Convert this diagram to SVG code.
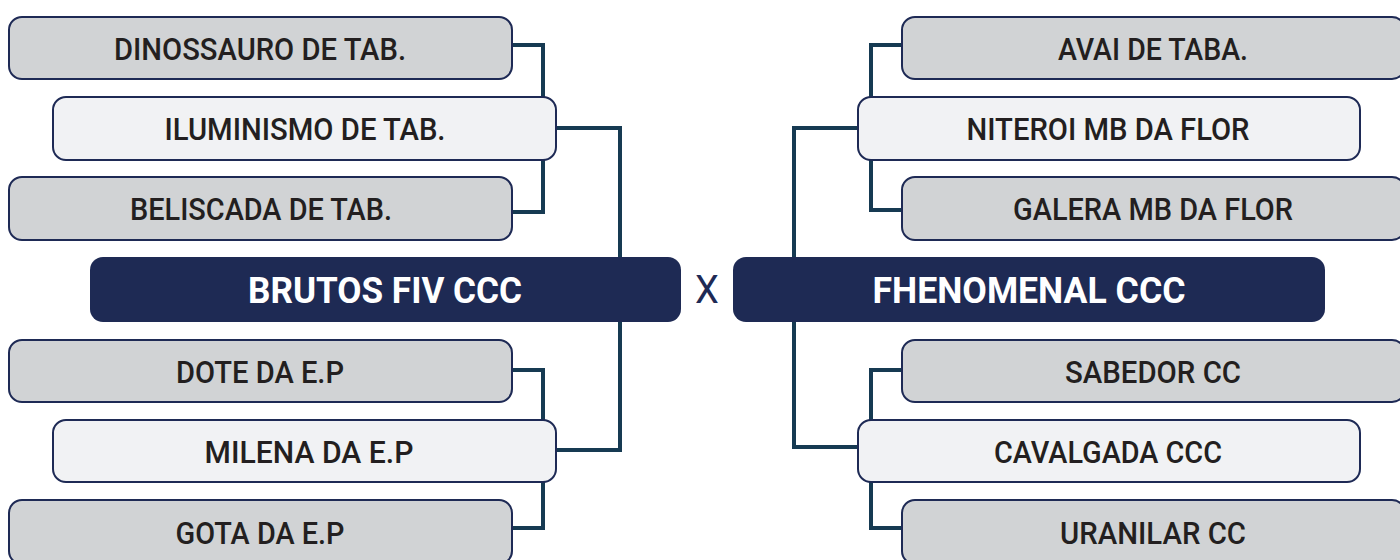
<svg xmlns="http://www.w3.org/2000/svg" width="1400" height="560" viewBox="0 0 1400 560">
<style>
.g{fill:#d1d3d5;stroke:#1e2a55;stroke-width:2}
.l{fill:#f1f2f4;stroke:#1e2a55;stroke-width:2}
.m{fill:#1e2a54}
.t{font-family:Roboto,"Liberation Sans",sans-serif;font-weight:500;font-size:32px;fill:#231f20;text-anchor:middle}
.mt{font-family:Roboto,"Liberation Sans",sans-serif;font-weight:700;font-size:36px;fill:#ffffff;text-anchor:middle}
.x{font-family:Roboto,"Liberation Sans",sans-serif;font-weight:400;font-size:38px;fill:#1e2a55;text-anchor:middle}
.c{fill:none;stroke:#163a52;stroke-width:4}
</style>
<rect width="1400" height="560" fill="#ffffff"/>
<g id="connectors">
<path class="c" d="M512 45 H543 V97 M543 160 V212 H512"/>
<path class="c" d="M556 128 H620 V257 M620 322 V450 H556"/>
<path class="c" d="M512 370 H543 V420 M543 482 V528 H512"/>
<path class="c" d="M902 45 H871 V97 M871 160 V210 H902"/>
<path class="c" d="M858 128 H794 V257 M794 322 V447 H858"/>
<path class="c" d="M902 370 H871 V420 M871 482 V528 H902"/>
</g>
<g id="n-dinossauro"><rect class="g" x="9" y="17" width="503" height="62" rx="13"/><text class="t" x="260" y="60" textLength="292" lengthAdjust="spacingAndGlyphs">DINOSSAURO DE TAB.</text></g>
<g id="n-iluminismo"><rect class="l" x="53" y="97" width="503" height="63" rx="13"/><text class="t" x="305" y="140" textLength="281" lengthAdjust="spacingAndGlyphs">ILUMINISMO DE TAB.</text></g>
<g id="n-beliscada"><rect class="g" x="9" y="177" width="503" height="63" rx="13"/><text class="t" x="261" y="220" textLength="262" lengthAdjust="spacingAndGlyphs">BELISCADA DE TAB.</text></g>
<g id="n-brutos"><rect class="m" x="90" y="257" width="591" height="65" rx="13"/><text class="mt" x="385" y="303" textLength="274" lengthAdjust="spacingAndGlyphs">BRUTOS FIV CCC</text></g>
<g id="n-x"><text class="x" x="707" y="303">X</text></g>
<g id="n-fhenomenal"><rect class="m" x="733" y="257" width="592" height="65" rx="13"/><text class="mt" x="1029" y="303" textLength="313" lengthAdjust="spacingAndGlyphs">FHENOMENAL CCC</text></g>
<g id="n-dote"><rect class="g" x="9" y="340" width="503" height="62" rx="13"/><text class="t" x="260" y="383" textLength="168" lengthAdjust="spacingAndGlyphs">DOTE DA E.P</text></g>
<g id="n-milena"><rect class="l" x="53" y="420" width="503" height="62" rx="13"/><text class="t" x="309" y="463" textLength="209" lengthAdjust="spacingAndGlyphs">MILENA DA E.P</text></g>
<g id="n-gota"><rect class="g" x="9" y="500" width="503" height="64" rx="13"/><text class="t" x="260" y="544" textLength="169" lengthAdjust="spacingAndGlyphs">GOTA DA E.P</text></g>
<g id="n-avai"><rect class="g" x="902" y="17" width="503" height="62" rx="13"/><text class="t" x="1153" y="60" textLength="190" lengthAdjust="spacingAndGlyphs">AVAI DE TABA.</text></g>
<g id="n-niteroi"><rect class="l" x="858" y="97" width="502" height="63" rx="13"/><text class="t" x="1108" y="140" textLength="283" lengthAdjust="spacingAndGlyphs">NITEROI MB DA FLOR</text></g>
<g id="n-galera"><rect class="g" x="902" y="177" width="503" height="63" rx="13"/><text class="t" x="1153" y="220" textLength="280" lengthAdjust="spacingAndGlyphs">GALERA MB DA FLOR</text></g>
<g id="n-sabedor"><rect class="g" x="902" y="340" width="503" height="62" rx="13"/><text class="t" x="1153" y="383" textLength="176" lengthAdjust="spacingAndGlyphs">SABEDOR CC</text></g>
<g id="n-cavalgada"><rect class="l" x="858" y="420" width="502" height="62" rx="13"/><text class="t" x="1108" y="463" textLength="228" lengthAdjust="spacingAndGlyphs">CAVALGADA CCC</text></g>
<g id="n-uranilar"><rect class="g" x="902" y="500" width="503" height="64" rx="13"/><text class="t" x="1153" y="544" textLength="186" lengthAdjust="spacingAndGlyphs">URANILAR CC</text></g>
</svg>
